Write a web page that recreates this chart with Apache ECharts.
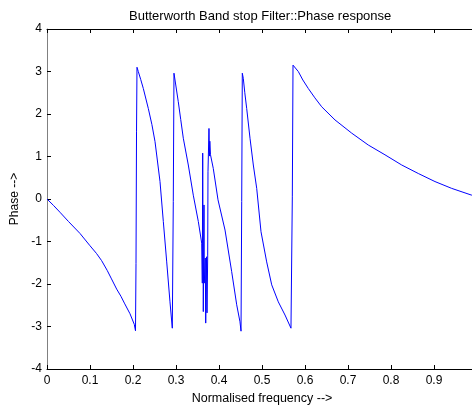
<!DOCTYPE html>
<html>
<head>
<meta charset="utf-8">
<script src="https://cdn.jsdelivr.net/npm/echarts@6/dist/echarts.min.js"></script>
<style>
  html, body { margin: 0; padding: 0; background: #fff; }
  #chart { width: 472px; height: 405px; }
</style>
</head>
<body>
<div id="chart"></div>
<script>
// normalised frequency (x) and phase in radians (y)
const freq = [
  0, 0.015, 0.03, 0.05, 0.0767, 0.10, 0.115, 0.127, 0.14, 0.15, 0.162, 0.172, 0.18, 0.193, 0.203, 0.2058,
  0.2070, 0.2082, 0.2093, 0.2123, 0.2180, 0.2240, 0.2356, 0.2440, 0.2512, 0.2628, 0.2705, 0.2784, 0.2860, 0.2914,
  0.2937, 0.2953, 0.2977, 0.3053, 0.3110, 0.3170, 0.3286, 0.3402, 0.3519, 0.3598,
  0.3612, 0.3621, 0.3635, 0.3651, 0.3658, 0.3681, 0.3691, 0.3709, 0.3721, 0.3737, 0.3744,
  0.3767, 0.3779, 0.3786, 0.3802, 0.3867, 0.3977, 0.4140, 0.4295, 0.4412, 0.4488, 0.4512,
  0.4528, 0.4542, 0.4565, 0.4600, 0.4644, 0.4721, 0.4798, 0.4877, 0.4977, 0.5109, 0.5226, 0.5379, 0.5535, 0.5674,
  0.5705, 0.5721, 0.5844, 0.5950, 0.6077, 0.6230, 0.6388, 0.6698, 0.7086, 0.7472, 0.7860, 0.8249, 0.8635, 0.9023, 0.9412, 0.9877, 0.99
]
const phase = [
  0, -0.15, -0.31, -0.53, -0.81, -1.10, -1.28, -1.45, -1.68, -1.88, -2.12, -2.29, -2.45, -2.70, -2.95, -3.10,
  -1.52, 1.58, 3.10, 3.00, 2.81, 2.60, 2.13, 1.75, 1.35, 0.41, -0.53, -1.48, -2.42, -3.04,
  -0.06, 2.96, 2.80, 2.29, 1.87, 1.43, 0.80, 0.09, -0.53, -1.04,
  -1.98, 1.08, -2.65, -0.14, -1.98, -1.39, -2.92, -1.36, -2.68, -1.34, 0.64,
  1.66, 1.01, 1.36, 1.04, 0.72, -0.02, -0.73, -1.71, -2.49, -2.89, -3.11,
  -0.06, 2.96, 2.84, 2.50, 2.13, 1.43, 0.80, 0.25, -0.77, -1.48, -2.02, -2.42, -2.73, -3.04,
  0.05, 3.15, 3.00, 2.80, 2.60, 2.38, 2.17, 1.86, 1.55, 1.27, 1.04, 0.80, 0.60, 0.41, 0.25, 0.09, 0.07
]
const xTicks = [0, 0.1, 0.2, 0.3, 0.4, 0.5, 0.6, 0.7, 0.8, 0.9]
const yTicks = [-4, -3, -2, -1, 0, 1, 2, 3, 4]

const chart = echarts.init(document.getElementById('chart'))
const font = 'Liberation Sans, Arial, sans-serif'

const option = {
  animation: false,
  title: {
    text: 'Butterworth Band stop Filter::Phase response',
    left: 124,
    top: 5,
    textStyle: { fontSize: 13, fontWeight: 'normal', color: '#000', fontFamily: font }
  },
  grid: { left: 47, top: 29, width: 430, height: 340, outerBoundsMode: 'none' },
  xAxis: [
    {
      type: 'value',
      min: 0,
      max: 1,
      interval: 0.1,
      name: 'Normalised frequency -->',
      nameLocation: 'middle',
      nameGap: 18,
      nameTextStyle: { fontSize: 12.5, color: '#000', fontFamily: font },
      axisLine: { onZero: false, lineStyle: { color: '#000', width: 1 } },
      axisTick: { inside: true, length: 4, lineStyle: { color: '#000' } },
      axisLabel: {
        margin: 6,
        fontSize: 12,
        color: '#000',
        fontFamily: font,
        formatter: v => {
          const t = xTicks.find(k => Math.abs(k - v) < 1e-6)
          return t === undefined ? '' : String(t)
        }
      },
      splitLine: { show: false }
    },
    {
      type: 'value',
      position: 'top',
      min: 0,
      max: 1,
      interval: 0.1,
      axisLine: { onZero: false, lineStyle: { color: '#000', width: 1 } },
      axisTick: { inside: true, length: 4, lineStyle: { color: '#000' } },
      axisLabel: { show: false },
      splitLine: { show: false }
    }
  ],
  yAxis: {
    type: 'value',
    min: -4,
    max: 4,
    interval: 1,
    name: 'Phase -->',
    nameLocation: 'middle',
    nameGap: 25,
    nameRotate: 90,
    nameTextStyle: { fontSize: 12, color: '#000', fontFamily: font },
    axisLine: { show: true, onZero: false, lineStyle: { color: '#808080', width: 1 } },
    axisTick: { show: true, inside: true, length: 4, lineStyle: { color: '#000' } },
    axisLabel: {
      margin: 5,
      fontSize: 12,
      color: '#000',
      fontFamily: font,
      formatter: v => (yTicks.includes(v) ? String(v) : '')
    },
    splitLine: { show: false }
  },
  series: [
    {
      type: 'line',
      data: freq.map((f, i) => [f, phase[i]]),
      showSymbol: false,
      lineStyle: { color: '#0000ff', width: 1 },
      itemStyle: { color: '#0000ff' }
    }
  ]
}

chart.setOption(option)
</script>
</body>
</html>
